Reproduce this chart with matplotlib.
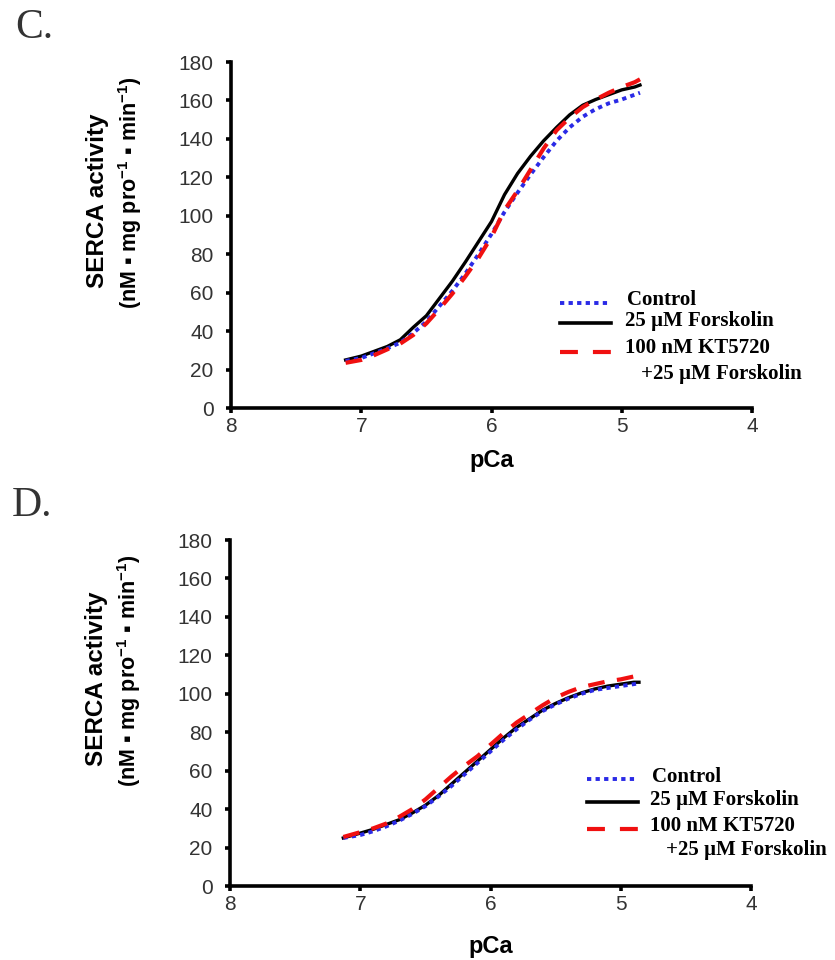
import matplotlib
matplotlib.use('Agg')
import matplotlib.pyplot as plt

plt.rcParams['font.family'] = ['Liberation Sans', 'DejaVu Sans']
plt.rcParams['mathtext.fontset'] = 'custom'
plt.rcParams['mathtext.rm'] = 'Liberation Sans:bold'
plt.rcParams['mathtext.bf'] = 'Liberation Sans:bold'
plt.rcParams['mathtext.default'] = 'bf'

# ---------------- data ----------------
pca_c = [7.12, 7.0, 6.9, 6.8, 6.7, 6.6, 6.5, 6.4, 6.3, 6.2, 6.1, 6.0, 5.9, 5.8,
         5.7, 5.6, 5.5, 5.4, 5.3, 5.2, 5.1, 5.0, 4.9, 4.86]
c_control = [24.5, 26, 28.5, 31, 34, 39, 45, 53, 61, 70, 80, 90.5, 102, 112,
             121.5, 130.5, 139, 146, 151.5, 155.5, 158.5, 160.5, 163, 164]
c_forsk = [25, 27, 29.5, 32, 35.5, 42, 48, 57, 66, 76, 86.5, 97, 111, 122,
           131, 139, 146, 152.5, 157.5, 160.5, 163, 165.5, 167, 168]
c_kt = [23.5, 25, 27.5, 30.5, 33.5, 38, 44, 51.5, 59.5, 68.5, 78, 89, 103, 113,
        124, 135, 144.5, 151, 156.5, 160.5, 164, 167, 169.5, 171]

pca_d = [7.13, 7.0, 6.9, 6.8, 6.7, 6.6, 6.5, 6.4, 6.3, 6.2, 6.1, 6.0, 5.9, 5.8,
         5.7, 5.6, 5.5, 5.4, 5.3, 5.2, 5.1, 5.0, 4.9, 4.86]
d_control = [25, 26.5, 28.5, 31, 34, 37.5, 41.5, 46.5, 52, 58, 64, 70, 76, 81.5,
             86.5, 91, 94.5, 97.5, 100, 102, 103, 104, 105, 105.5]
d_forsk = [25, 27.5, 29.5, 32, 34.5, 38, 42, 47, 53, 59, 65, 71, 77, 82.5,
           87, 91.5, 95, 98, 100.5, 102.5, 104, 105, 106, 106]
d_kt = [25.5, 28, 30, 32.5, 36, 40, 45, 51, 57, 62.5, 67.5, 73.5, 79.5, 85,
        89.5, 94, 98, 101, 103.5, 105, 106.5, 107.5, 109, 110]

x_ticks = [8, 7, 6, 5, 4]
y_ticks = [0, 20, 40, 60, 80, 100, 120, 140, 160, 180]
series_labels = ['Control', '25 \u00b5M Forskolin', '100 nM KT5720']
label_continuation = '+25 \u00b5M Forskolin'
panel_letters = ['C.', 'D.']

# ---------------- figure ----------------
W, H = 835, 960
fig = plt.figure(figsize=(W / 100, H / 100), dpi=100)
AX_W, AX_H = 521, 346
axC = fig.add_axes([231 / W, 1 - 408 / H, AX_W / W, AX_H / H])
axD = fig.add_axes([230 / W, 1 - 886 / H, AX_W / W, AX_H / H])

blue = '#2a2ae6'
red = '#f01010'
styles = [
    dict(color=blue, lw=2.8, linestyle=(0, (1.1, 1.1))),
    dict(color='black', lw=2.6, linestyle='-'),
    dict(color=red, lw=3.0, linestyle=(0, (4.3, 3.6))),
]
leg_font = dict(family='Liberation Serif', fontweight='bold', fontsize=15)


def draw(ax, pca, ctrl, forsk, kt, leg, xlab_y):
    ax.plot(pca, forsk, zorder=3, **dict(styles[1], lw=2.4))
    ax.plot(pca, ctrl, zorder=4, **styles[0])
    ax.plot(pca, kt, zorder=5, **dict(styles[2], linestyle=(0, (4.0, 3.0))))

    ax.set_xlim(8, 4)
    ax.set_ylim(0, 180)
    ax.set_xticks(x_ticks)
    ax.set_yticks(y_ticks)
    for s in ['top', 'right']:
        ax.spines[s].set_visible(False)
    for s in ['left', 'bottom']:
        ax.spines[s].set_linewidth(2.6)
        ax.spines[s].set_capstyle('projecting')
    ax.tick_params(axis='both', direction='out', length=3.5, width=2.6,
                   labelsize=15, labelcolor='#333333')
    ax.tick_params(axis='y', pad=9)
    ax.tick_params(axis='x', pad=3)

    ax.text(-0.257, 0.598, 'SERCA activity', rotation=90, ha='center', va='center',
            fontsize=17.5, fontweight='bold', transform=ax.transAxes)
    ax.text(-0.194, 0.621, '(nM \u25aa mg pro$^{-1}$ \u25aa min$^{-1}$)', rotation=90,
            ha='center', va='center', fontsize=15.5, fontweight='bold',
            transform=ax.transAxes)
    ax.set_xlabel('pCa', fontsize=17, fontweight='bold')
    ax.xaxis.set_label_coords(0.5, xlab_y)
    ax.xaxis.label.set_va('center')

    # legend (pixel offsets from the axes origin, converted to axes fractions)
    hx0, hx1, tx, cont_x, line_ys, base_ys = leg
    for st, lab, ly, by, dx in zip(styles, series_labels, line_ys, base_ys,
                                   [2, 0, 0]):
        ax.plot([hx0 / AX_W, hx1 / AX_W], [ly / AX_H, ly / AX_H],
                transform=ax.transAxes, clip_on=False, **st)
        ax.text((tx + dx) / AX_W, by / AX_H, lab, transform=ax.transAxes,
                ha='left', va='baseline', **leg_font)
    ax.text(cont_x / AX_W, base_ys[3] / AX_H, label_continuation,
            transform=ax.transAxes, ha='left', va='baseline', **leg_font)


# legend geometry in pixels relative to axes origin (x right, y up)
legC = (560 - 231, 611 - 231, 625 - 231, 641 - 231,
        [408 - 302.5, 408 - 323, 408 - 351.5],
        [408 - 305, 408 - 326, 408 - 353, 408 - 379])
legD = (587 - 230, 638 - 230, 650 - 230, 666 - 230,
        [886 - 779, 886 - 802, 886 - 829],
        [886 - 782, 886 - 805, 886 - 831, 886 - 855])

draw(axC, pca_c, c_control, c_forsk, c_kt, legC, -0.153)
draw(axD, pca_d, d_control, d_forsk, d_kt, legD, -0.175)

fig.text(15 / W, 1 - 28 / H, panel_letters[0], ha='left', va='center',
         family='Liberation Serif', fontsize=30, color='#333333')
fig.text(12 / W, 1 - 506 / H, panel_letters[1], ha='left', va='center',
         family='Liberation Serif', fontsize=30, color='#333333')

fig.savefig('out.png', dpi=100)
